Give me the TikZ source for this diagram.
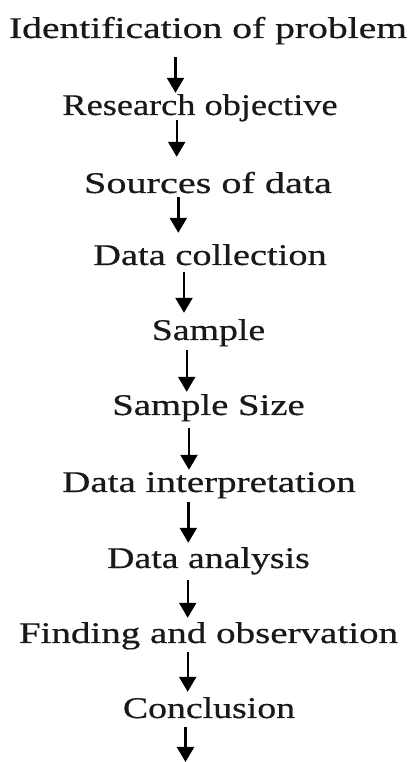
\documentclass[tikz,border=0pt]{standalone}
\usepackage{fontspec}
\usepackage{graphicx}
\setmainfont{Liberation Serif}[FakeBold=0.5]
\usetikzlibrary{arrows.meta}

% horizontally widened label text
\newcommand{\widetext}[2]{\scalebox{#1}[1]{#2}}

\tikzset{
  stage/.style={anchor=base, inner sep=0pt, text height=20pt, text depth=4pt,
                font=\fontsize{30}{36}\selectfont, text=black!90},
  flow/.style={line width=2.4pt, draw=black,
               -{Triangle[width=17pt,length=15pt]}}
}

\begin{document}
\begin{tikzpicture}[x=1pt,y=1pt]
\useasboundingbox (0,0) rectangle (417,762);

% process stages, top to bottom
\node[stage] (problem)    at (208,724)   {\widetext{1.32}{Identification of problem}};
\node[stage] (objective)  at (200,647)   {\widetext{1.21}{Research objective}};
\node[stage] (sources)    at (208,569)   {\widetext{1.34}{Sources of data}};
\node[stage] (collection) at (210,497)   {\widetext{1.28}{Data collection}};
\node[stage] (sample)     at (208.5,422) {\widetext{1.26}{Sample}};
\node[stage] (size)       at (208.5,347) {\widetext{1.29}{Sample Size}};
\node[stage] (interp)     at (209,270)   {\widetext{1.30}{Data interpretation}};
\node[stage] (analysis)   at (208.5,194) {\widetext{1.26}{Data analysis}};
\node[stage] (finding)    at (208.5,119) {\widetext{1.30}{Finding and observation}};
\node[stage] (conclusion) at (209,44)    {\widetext{1.26}{Conclusion}};
\coordinate (next) at (185.5,0);

% downward arrows between consecutive stages
\draw[flow, shorten <=15pt, shorten >=2pt]
  ([xshift=-32.5pt]problem.south) -- ([xshift=-32.5pt]problem.south |- objective.north);
\draw[flow, shorten <=1pt, shorten >=16pt]
  ([xshift=-23.3pt]objective.south) -- ([xshift=-23.3pt]objective.south |- sources.north);
\draw[flow, shorten <=0pt, shorten >=12pt]
  ([xshift=-29.7pt]sources.south) -- ([xshift=-29.7pt]sources.south |- collection.north);
\draw[flow, shorten <=3pt, shorten >=7pt]
  ([xshift=-26pt]collection.south) -- ([xshift=-26pt]collection.south |- sample.north);
\draw[flow, shorten <=6pt, shorten >=3pt]
  ([xshift=-21.8pt]sample.south) -- ([xshift=-21.8pt]sample.south |- size.north);
\draw[flow, shorten <=9pt, shorten >=2pt]
  ([xshift=-19.5pt]size.south) -- ([xshift=-19.5pt]size.south |- interp.north);
\draw[flow, shorten <=6pt, shorten >=5pt]
  ([xshift=-20.7pt]interp.south) -- ([xshift=-20.7pt]interp.south |- analysis.north);
\draw[flow, shorten <=8pt, shorten >=5pt]
  ([xshift=-20.8pt]analysis.south) -- ([xshift=-20.8pt]analysis.south |- finding.north);
\draw[flow, shorten <=5pt, shorten >=6pt]
  ([xshift=-20.8pt]finding.south) -- ([xshift=-20.8pt]finding.south |- conclusion.north);
\draw[flow, shorten <=5pt]
  (conclusion.south -| next) -- (next);
\end{tikzpicture}
\end{document}
